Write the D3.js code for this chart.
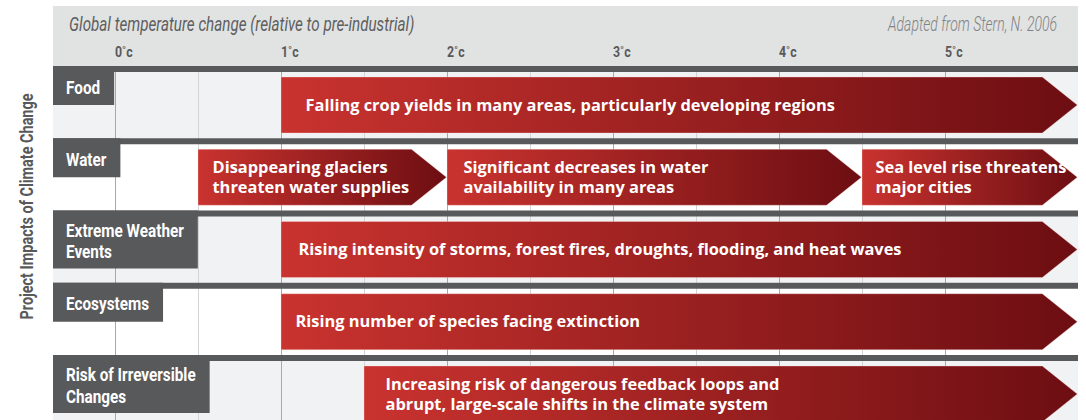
<!DOCTYPE html>
<html><head><meta charset="utf-8">
<script src="https://cdn.jsdelivr.net/npm/d3@7"></script>
<style>html,body{margin:0;padding:0;background:#fff;} svg{display:block;}</style>
</head><body><svg id="chart" width="1086" height="420"></svg>
<script>
// ---------------- data ----------------
const rowLabels = [["Food"], ["Water"], ["Extreme Weather", "Events"], ["Ecosystems"], ["Risk of Irreversible", "Changes"]];
const tickValues = [0, 1, 2, 3, 4, 5];
const tickLabels = ["0˚c", "1˚c", "2˚c", "3˚c", "4˚c", "5˚c"];
const gridValues = [0, 0.5, 1, 1.5, 2, 2.5, 3, 3.5, 4, 4.5, 5];
const impactRow = [0, 1, 1, 1, 2, 3, 4];
const impactStart = [1, 0.5, 2, 4.5, 1, 1, 1.5];
const impactEnd = [5.8, 2, 4.5, 5.8, 5.8, 5.8, 5.8];
const impactText = [
  ["Falling crop yields in many areas, particularly developing regions"],
  ["Disappearing glaciers", "threaten water supplies"],
  ["Significant decreases in water", "availability in many areas"],
  ["Sea level rise threatens", "major cities"],
  ["Rising intensity of storms, forest fires, droughts, flooding, and heat waves"],
  ["Rising number of species facing extinction"],
  ["Increasing risk of dangerous feedback loops and", "abrupt, large-scale shifts in the climate system"]
];
const titleText = "Global temperature change (relative to pre-industrial)";
const sourceText = "Adapted from Stern, N. 2006";
const axisTitle = "Project Impacts of Climate Change";

// ---------------- layout ----------------
const svg = d3.select("#chart");
const left = 53, right = 1078, headTop = 6, headBottom = 66, rowH = 72.25;
const dark = "#58595b";
const x = d3.scaleLinear().domain([0, 5]).range([115.5, 945.5]);
const y = d3.scaleBand().domain(d3.range(rowLabels.length)).range([headBottom, headBottom + rowH * rowLabels.length]);

function condense(sel, k) {
  sel.each(function () {
    const w = this.getComputedTextLength();
    this.setAttribute("textLength", w * k);
    this.setAttribute("lengthAdjust", "spacingAndGlyphs");
  });
}

const defs = svg.append("defs");

// header band
svg.append("rect").attr("x", left).attr("y", headTop).attr("width", right - left).attr("height", headBottom - headTop).attr("fill", "#e1e2e2");

// row backgrounds
svg.selectAll("rect.rowbg").data(rowLabels).join("rect").attr("class", "rowbg")
  .attr("x", left).attr("y", (d, i) => y(i)).attr("width", right - left).attr("height", y.bandwidth())
  .attr("fill", (d, i) => i % 2 === 0 ? "#f1f2f4" : "#ffffff");

// grid lines
svg.selectAll("line.grid").data(gridValues).join("line").attr("class", "grid")
  .attr("x1", d => x(d)).attr("x2", d => x(d)).attr("y1", headBottom).attr("y2", 420)
  .attr("stroke", d => Number.isInteger(d) ? "#a7a8aa" : "#d3d4d6").attr("stroke-width", 1);

// row top bars
svg.selectAll("rect.bar").data(rowLabels).join("rect").attr("class", "bar")
  .attr("x", left).attr("y", (d, i) => y(i)).attr("width", right - left).attr("height", 6).attr("fill", dark);

// arrows
const headLen = 35;
const impacts = impactRow.map((r, i) => ({ r, s: impactStart[i], e: impactEnd[i], t: impactText[i], i }));
impacts.forEach(d => {
  const g = defs.append("linearGradient").attr("id", "grad" + d.i).attr("x1", 0).attr("x2", 1).attr("y1", 0).attr("y2", 0);
  g.append("stop").attr("offset", 0).attr("stop-color", "#c9332f");
  g.append("stop").attr("offset", 1).attr("stop-color", "#6d0e12");
});
svg.selectAll("path.arrow").data(impacts).join("path").attr("class", "arrow")
  .attr("d", d => {
    const x0 = x(d.s) - 0.5, x1 = x(d.e) - 1, top = y(d.r) + 11, bot = y(d.r) + 67, mid = (top + bot) / 2;
    return `M${x0},${top}L${x1 - headLen},${top}L${x1},${mid}L${x1 - headLen},${bot}L${x0},${bot}Z`;
  })
  .attr("fill", d => `url(#grad${d.i})`)
  .attr("stroke", "rgba(255,220,220,0.35)").attr("stroke-width", 1);

const textPad = [24, 14, 16, 13, 17, 14, 21];
impacts.forEach(d => {
  const yc = y(d.r) + 39;
  const n = d.t.length;
  d.t.forEach((line, j) => {
    svg.append("text").attr("font-family", "'Open Sans', sans-serif").attr("font-weight", 700)
      .attr("font-size", 16.4).attr("fill", "#fff")
      .attr("x", x(d.s) + textPad[d.i]).attr("y", yc + 5.5 + (j - (n - 1) / 2) * 20).text(line);
  });
});

// row labels
rowLabels.forEach((lines, i) => {
  const T = y(i);
  const g = svg.append("g");
  const box = g.append("rect").attr("x", left).attr("y", T).attr("fill", dark);
  const texts = g.selectAll("text").data(lines).join("text")
    .attr("x", 66).attr("y", (d, j) => T + (lines.length === 1 ? 27.5 : 26 + j * 21.5))
    .attr("font-family", "Roboto, sans-serif").attr("font-weight", 700).attr("font-size", 18)
    .attr("fill", "#fff").text(d => d);
  condense(texts, 0.85);
  let w = 0;
  texts.each(function () { w = Math.max(w, +this.getAttribute("textLength")); });
  box.attr("width", 66 - left + w + 14).attr("height", 39 + (lines.length - 1) * 19);
});

// header texts
const title = svg.append("text").attr("x", 69).attr("y", 31)
  .attr("font-family", "Roboto, sans-serif").attr("font-style", "italic").attr("font-weight", 400)
  .attr("font-size", 20).attr("fill", "#5d5e60").text(titleText);
condense(title, 0.76);
svg.append("text").attr("transform", "translate(1057,31) scale(0.7,1)").attr("text-anchor", "end")
  .attr("font-family", "Roboto, sans-serif").attr("font-style", "italic").attr("font-weight", 300)
  .attr("font-size", 20).attr("fill", "#808285").text(sourceText);

const ticks = svg.selectAll("text.tick").data(tickValues).join("text").attr("class", "tick")
  .attr("x", d => x(d) - 0.5).attr("y", 57)
  .attr("font-family", "Roboto, sans-serif").attr("font-weight", 700).attr("font-size", 14.5)
  .attr("fill", dark).text((d, i) => tickLabels[i]);
condense(ticks, 0.85);

// y axis title
const yt = svg.append("text").attr("transform", "translate(33,206.5) rotate(-90)").attr("text-anchor", "middle")
  .attr("font-family", "Roboto, sans-serif").attr("font-weight", 700).attr("font-size", 19)
  .attr("fill", dark).text(axisTitle);
condense(yt, 0.76);
</script>
</body></html>
